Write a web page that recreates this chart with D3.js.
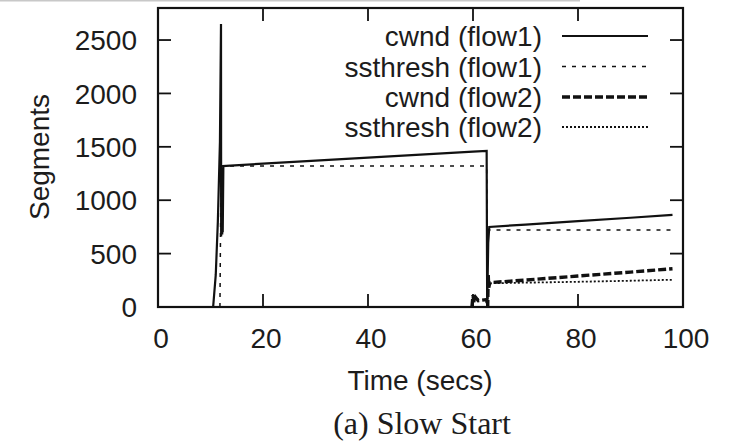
<!DOCTYPE html>
<html>
<head>
<meta charset="utf-8">
<script src="https://cdn.jsdelivr.net/npm/d3@7"></script>
<style>
  html, body { margin: 0; padding: 0; background: #fff; }
  svg { display: block; }
  text { fill: #1c1c1c; }
</style>
</head>
<body>
<svg id="chart" width="738" height="444"></svg>
<script>
// Congestion window and slow-start threshold of two TCP flows (segments vs. seconds)
const cwnd1Time  = [10.5, 11.0, 11.4, 11.8, 12.0, 12.03, 12.1, 12.13, 12.2, 12.23, 12.3, 12.33, 12.45, 13, 20, 30, 40, 50, 60, 62.6, 62.7, 62.9, 63.1, 70, 80, 90, 98];
const cwnd1Value = [0, 300, 800, 1550, 2650, 660, 1250, 700, 1280, 680, 1300, 700, 1320, 1322, 1342, 1370, 1398, 1427, 1455, 1462, 0, 600, 750, 772, 804, 836, 862];

const ssth1Time  = [11.8, 12.0, 20, 30, 40, 50, 62.6, 62.7, 70, 80, 90, 98];
const ssth1Value = [0, 1320, 1320, 1320, 1320, 1320, 1320, 720, 720, 720, 720, 720];

const cwnd2Time  = [59.8, 60.0, 60.2, 60.5, 61.0, 62.6, 62.8, 62.9, 63.0, 63.2, 70, 80, 90, 98];
const cwnd2Value = [0, 110, 40, 90, 60, 70, 0, 300, 180, 228, 252, 290, 327, 358];

const ssth2Time  = [62.7, 62.9, 63.2, 70, 80, 90, 98];
const ssth2Value = [0, 180, 222, 228, 236, 246, 255];

const xTicks = [0, 20, 40, 60, 80, 100];
const yTicks = [0, 500, 1000, 1500, 2000, 2500];

const seriesNames = ["cwnd (flow1)", "ssthresh (flow1)", "cwnd (flow2)", "ssthresh (flow2)"];

const svg = d3.select("#chart");
const plot = { left: 158, right: 683, top: 8, bottom: 307 };

const x = d3.scaleLinear().domain([0, 100]).range([plot.left, plot.right]);
const y = d3.scaleLinear().domain([0, 2800]).range([plot.bottom, plot.top]);

// thin grey rule along the upper edge
svg.append("line")
  .attr("x1", 0).attr("x2", 580).attr("y1", 0.5).attr("y2", 0.5)
  .attr("stroke", "#c8c8c8").attr("stroke-width", 2);

const font = "'Liberation Sans', Arial, Helvetica, sans-serif";
const tickLen = 13;
const ink = "#111";

// inward tick marks on all four sides
const ticks = svg.append("g").attr("stroke", ink).attr("stroke-width", 1.8);
xTicks.forEach(t => {
  ticks.append("line").attr("x1", x(t)).attr("x2", x(t))
    .attr("y1", plot.bottom).attr("y2", plot.bottom - tickLen);
  ticks.append("line").attr("x1", x(t)).attr("x2", x(t))
    .attr("y1", plot.top).attr("y2", plot.top + tickLen);
});
yTicks.forEach(t => {
  ticks.append("line").attr("x1", plot.left).attr("x2", plot.left + tickLen)
    .attr("y1", y(t)).attr("y2", y(t));
  ticks.append("line").attr("x1", plot.right).attr("x2", plot.right - tickLen)
    .attr("y1", y(t)).attr("y2", y(t));
});

// tick labels
svg.append("g").selectAll("text").data(xTicks).join("text")
  .attr("x", d => x(d) + 3).attr("y", 348)
  .attr("text-anchor", "middle")
  .attr("font-family", font).attr("font-size", 28)
  .text(d3.format("d"));

svg.append("g").selectAll("text").data(yTicks).join("text")
  .attr("x", 137).attr("y", d => y(d)).attr("dy", "0.36em")
  .attr("text-anchor", "end")
  .attr("font-family", font).attr("font-size", 28)
  .text(d3.format("d"));

// series
const line = d3.line().x(d => x(d[0])).y(d => y(d[1]));
const zip = (t, v) => t.map((d, i) => [d, v[i]]);

const styles = [
  { width: 2.2, dash: null },
  { width: 1.5, dash: "4,6" },
  { width: 3.4, dash: "8,3" },
  { width: 1.8, dash: "2,2" }
];
const data = [
  zip(cwnd1Time, cwnd1Value),
  zip(ssth1Time, ssth1Value),
  zip(cwnd2Time, cwnd2Value),
  zip(ssth2Time, ssth2Value)
];

svg.append("defs").append("clipPath").attr("id", "plotClip")
  .append("rect").attr("x", plot.left).attr("y", plot.top)
  .attr("width", plot.right - plot.left).attr("height", plot.bottom - plot.top);

const seriesG = svg.append("g").attr("clip-path", "url(#plotClip)");
data.forEach((pts, i) => {
  seriesG.append("path")
    .attr("d", line(pts))
    .attr("fill", "none")
    .attr("stroke", ink)
    .attr("stroke-width", styles[i].width)
    .attr("stroke-dasharray", styles[i].dash)
    .attr("stroke-linejoin", "miter");
});

// frame
svg.append("rect")
  .attr("x", plot.left).attr("y", plot.top)
  .attr("width", plot.right - plot.left).attr("height", plot.bottom - plot.top)
  .attr("fill", "none").attr("stroke", ink).attr("stroke-width", 2.2);

// legend
const legendRows = [36, 66.5, 97, 127];
seriesNames.forEach((name, i) => {
  svg.append("text")
    .attr("x", 542).attr("y", legendRows[i] + 10)
    .attr("text-anchor", "end")
    .attr("font-family", font).attr("font-size", 28)
    .text(name);
  svg.append("line")
    .attr("x1", 562).attr("x2", 648)
    .attr("y1", legendRows[i]).attr("y2", legendRows[i])
    .attr("stroke", ink)
    .attr("stroke-width", styles[i].width)
    .attr("stroke-dasharray", styles[i].dash);
});

// axis titles and caption
svg.append("text")
  .attr("transform", "translate(49,157) rotate(-90)")
  .attr("text-anchor", "middle")
  .attr("font-family", font).attr("font-size", 28)
  .text("Segments");

svg.append("text")
  .attr("x", 420).attr("y", 390)
  .attr("text-anchor", "middle")
  .attr("font-family", font).attr("font-size", 28)
  .text("Time (secs)");

svg.append("text")
  .attr("x", 422).attr("y", 434)
  .attr("text-anchor", "middle")
  .attr("font-family", "'Liberation Serif', 'Times New Roman', serif").attr("font-size", 32)
  .text("(a) Slow Start");
</script>
</body>
</html>
